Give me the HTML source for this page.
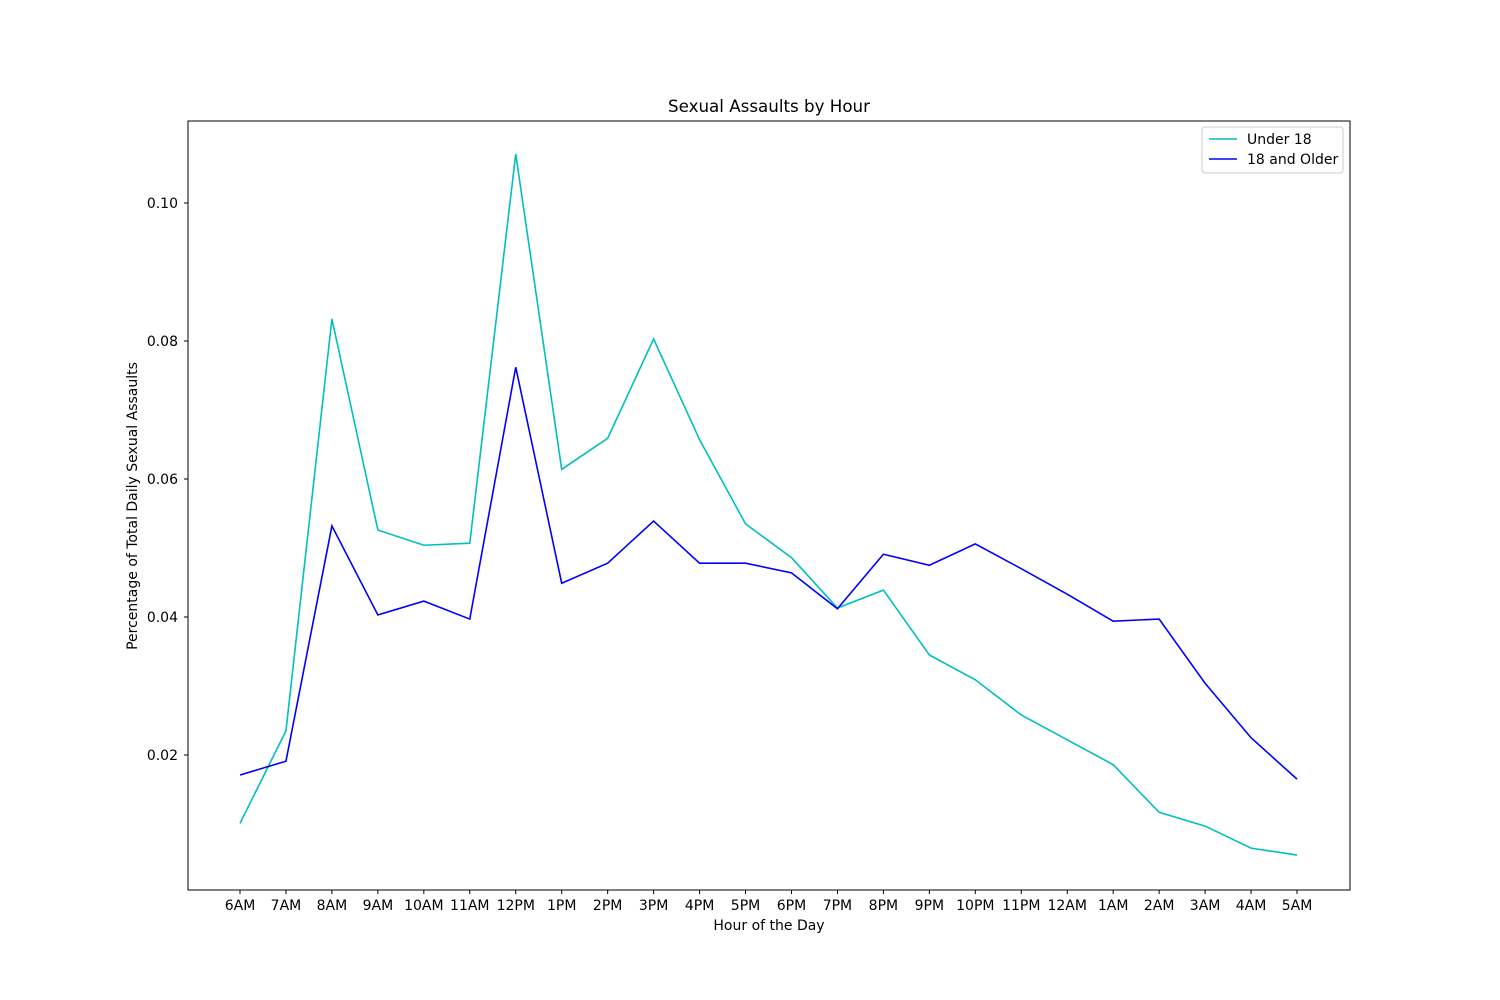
<!DOCTYPE html>
<html><head><meta charset="utf-8"><style>
body{margin:0;background:#fff;}
svg{display:block;font-family:"DejaVu Sans",sans-serif;}
</style></head><body>
<svg id="chart" width="1500" height="1000"></svg>
<script>
const categories=["6AM","7AM","8AM","9AM","10AM","11AM","12PM","1PM","2PM","3PM","4PM","5PM","6PM","7PM","8PM","9PM","10PM","11PM","12AM","1AM","2AM","3AM","4AM","5AM"];
const under18=[0.0101,0.0235,0.0832,0.0526,0.0504,0.0507,0.1071,0.0614,0.0659,0.0803,0.0657,0.0535,0.0486,0.0413,0.0439,0.0345,0.0309,0.0258,0.0222,0.0186,0.0117,0.0097,0.0065,0.0055];
const older18=[0.0171,0.0191,0.0532,0.0403,0.0423,0.0397,0.0762,0.0449,0.0478,0.0539,0.0478,0.0478,0.0464,0.0412,0.0491,0.0475,0.0506,0.0470,0.0433,0.0394,0.0397,0.0304,0.0225,0.0165];
const yTicks=[0.02,0.04,0.06,0.08,0.10];
const yTickLabels=["0.02","0.04","0.06","0.08","0.10"];

const svg=document.getElementById('chart');
const NS="http://www.w3.org/2000/svg";
const L=188,R=1350,T=121,B=890;
const x=i=>240+i*(1297-240)/(categories.length-1);
const y=v=>755-(v-0.02)*6900;
function mk(tag,attrs,text){const e=document.createElementNS(NS,tag);for(const k in attrs)e.setAttribute(k,attrs[k]);if(text!==undefined)e.textContent=text;svg.appendChild(e);return e;}

let e=mk('rect',{x:L,y:T,width:R-L,height:B-T,fill:'none',stroke:'#000','stroke-width':1});



categories.forEach((c,i)=>{
 let t=mk('line',{x1:x(i),x2:x(i),y1:B,y2:B+4,stroke:'#000'});
 
 
 let l=mk('text',{x:x(i),y:B+20,'text-anchor':'middle','font-size':14},c);
 
 
});
yTicks.forEach((v,i)=>{
 let t=mk('line',{x1:L-4,x2:L,y1:y(v),y2:y(v),stroke:'#000'});
 
 
 let l=mk('text',{x:L-10,y:y(v)+5,'text-anchor':'end','font-size':14},yTickLabels[i]);
 
 
});
function line(data,color,name){
 const p=mk('polyline',{points:data.map((v,i)=>x(i)+','+y(v)).join(' '),fill:'none',stroke:color,'stroke-width':1.6});
 
 
}
line(under18,'#00bfbf','line-under-18');
line(older18,'#0000ff','line-18-and-older');

e=mk('text',{x:769,y:112,'text-anchor':'middle','font-size':16.7},'Sexual Assaults by Hour');


e=mk('text',{x:769,y:930,'text-anchor':'middle','font-size':14},'Hour of the Day');


e=mk('text',{x:137,y:506,'text-anchor':'middle','font-size':14,transform:'rotate(-90 137 506)'},'Percentage of Total Daily Sexual Assaults');



e=mk('rect',{x:1202,y:127,width:141,height:46,fill:'#fff',stroke:'#ccc',rx:3});


e=mk('line',{x1:1209,x2:1237,y1:139,y2:139,stroke:'#00bfbf','stroke-width':1.6});


e=mk('text',{x:1247,y:144,'font-size':14},'Under 18');


e=mk('line',{x1:1209,x2:1237,y1:159,y2:159,stroke:'#0000ff','stroke-width':1.6});


e=mk('text',{x:1247,y:164,'font-size':14},'18 and Older');


</script>
</body></html>
